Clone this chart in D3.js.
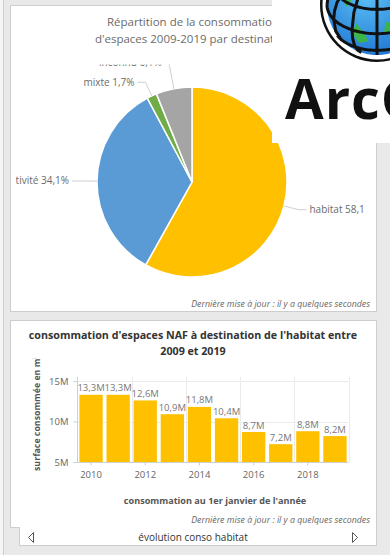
<!DOCTYPE html>
<html>
<head>
<meta charset="utf-8">
<script src="https://cdn.jsdelivr.net/npm/d3@7"></script>
<style>
  html, body { margin: 0; padding: 0; background: #e9e9e9; }
  svg { display: block; }
  text { font-family: "Open Sans", sans-serif; }
</style>
</head>
<body>
<svg id="dash" width="390" height="555"></svg>
<script>
// Part des destinations dans la consommation d'espaces 2009-2019 (%)
const pieCategories = ["habitat", "activité", "mixte", "inconnu"];
const pieShares = [58.1, 34.1, 1.7, 6.1];
const pieColors = ["#ffc000", "#5b9bd5", "#70ad47", "#a5a5a5"];

// Consommation d'espaces NAF pour l'habitat (m²), au 1er janvier
const years = [2010, 2011, 2012, 2013, 2014, 2015, 2016, 2017, 2018, 2019];
const habitatConso = [13.3e6, 13.3e6, 12.6e6, 10.9e6, 11.8e6, 10.4e6, 8.7e6, 7.2e6, 8.8e6, 8.2e6];
const yTickValues = [5e6, 10e6, 15e6];
const xTickYears = [2010, 2012, 2014, 2016, 2018];

const fr = d3.formatLocale({ decimal: ",", thousands: " ", grouping: [3], currency: ["", " €"] });
const fmtM = v => fr.format(".1f")(v / 1e6) + "M";
const fmtTick = v => fr.format("d")(v / 1e6) + "M";
const fmtPct = v => fr.format(".1f")(v) + "%";

const svg = d3.select("#dash");
const defs = svg.append("defs");

// left edge strip of the page
svg.append("rect").attr("x", 0).attr("y", 0).attr("width", 3).attr("height", 555).attr("fill", "#f5f5f5");
svg.append("line").attr("x1", 3.5).attr("x2", 3.5).attr("y1", 0).attr("y2", 555).attr("stroke", "#cfcfcf");

// ---------- card 1 : pie ----------
svg.append("rect").attr("x", 10.5).attr("y", 5.5).attr("width", 366).attr("height", 306)
  .attr("fill", "#fff").attr("stroke", "#cdcdcd");

const pieTitle = svg.append("text").attr("text-anchor", "middle").attr("fill", "#6b6b6b")
  .attr("font-size", 11.5);
pieTitle.append("tspan").attr("x", 193).attr("y", 26).text("Répartition de la consommation");
pieTitle.append("tspan").attr("x", 193).attr("y", 43).text("d'espaces 2009-2019 par destination");

defs.append("clipPath").attr("id", "pieClip").append("rect")
  .attr("x", 16).attr("y", 64.5).attr("width", 347).attr("height", 240);

const pieG = svg.append("g").attr("clip-path", "url(#pieClip)");
const cx = 192, cy = 182, R = 95;
const pie = d3.pie().sort(null).value(d => d)(pieShares);
const arc = d3.arc().innerRadius(0).outerRadius(R);

pieG.append("g").attr("transform", `translate(${cx},${cy})`)
  .selectAll("path").data(pie).join("path")
  .attr("d", arc)
  .attr("fill", (d, i) => pieColors[i])
  .attr("stroke", "#fff").attr("stroke-width", 1.5);

// leader lines and labels
const labelSpec = [
  { ext: 15, dx: 8, side: 1 },
  { ext: 15, dx: 10, side: -1 },
  { ext: 15, dx: 8, side: -1 },
  { ext: 27, dx: 4, side: -1 }
];
pie.forEach((d, i) => {
  const a = (d.startAngle + d.endAngle) / 2;
  const s = labelSpec[i];
  const p0 = [cx + R * Math.sin(a), cy - R * Math.cos(a)];
  const p1 = [cx + (R + s.ext) * Math.sin(a), cy - (R + s.ext) * Math.cos(a)];
  const p2 = [p1[0] + s.side * s.dx, p1[1]];
  pieG.append("path")
    .attr("d", d3.line()([p0, p1, p2]))
    .attr("fill", "none").attr("stroke", "#cfcfcf").attr("stroke-width", 1);
  pieG.append("text")
    .attr("x", p2[0] + s.side * 3).attr("y", p2[1] + 3.5)
    .attr("text-anchor", s.side > 0 ? "start" : "end")
    .attr("font-size", 10).attr("fill", "#6b6b6b")
    .text(pieCategories[i] + " " + fmtPct(pieShares[i]));
});

svg.append("text").attr("x", 370).attr("y", 307).attr("text-anchor", "end")
  .attr("font-size", 8.8).attr("font-style", "italic").attr("fill", "#666")
  .text("Dernière mise à jour : il y a quelques secondes");

// ---------- card 2 : bars ----------
svg.append("path")
  .attr("d", "M10.5,320.5 H376.5 V545.5 H19.5 V527.5 H10.5 Z")
  .attr("fill", "#fff").attr("stroke", "#cdcdcd");

const barTitle = svg.append("text").attr("text-anchor", "middle").attr("fill", "#333")
  .attr("font-size", 10.7).attr("font-weight", 700);
barTitle.append("tspan").attr("x", 193).attr("y", 339).text("consommation d'espaces NAF à destination de l'habitat entre");
barTitle.append("tspan").attr("x", 193).attr("y", 355).text("2009 et 2019");

const x = d3.scaleBand().domain(years).range([77.5, 348.5]).paddingInner(0.14).paddingOuter(0.07);
const y = d3.scaleLinear().domain([5e6, 15e6]).range([462, 381]);

const plot = svg.append("g");
// horizontal grid
plot.selectAll("line.hg").data(yTickValues.slice(1)).join("line")
  .attr("x1", 77.5).attr("x2", 348.5)
  .attr("y1", d => Math.round(y(d)) + 0.5).attr("y2", d => Math.round(y(d)) + 0.5)
  .attr("stroke", "#ebebeb");
// vertical grid between year pairs
plot.selectAll("line.vg").data(years.filter(v => v % 2 === 1)).join("line")
  .attr("x1", d => Math.round(x(d) + x.bandwidth() + x.step() * x.paddingInner() / 2) + 0.5)
  .attr("x2", d => Math.round(x(d) + x.bandwidth() + x.step() * x.paddingInner() / 2) + 0.5)
  .attr("y1", 377).attr("y2", 462)
  .attr("stroke", "#ebebeb");

plot.selectAll("rect.bar").data(years).join("rect")
  .attr("x", d => x(d)).attr("width", x.bandwidth())
  .attr("y", (d, i) => y(habitatConso[i]))
  .attr("height", (d, i) => y(5e6) - y(habitatConso[i]))
  .attr("fill", "#ffc000");

plot.selectAll("text.val").data(years).join("text")
  .attr("x", d => x(d) + x.bandwidth() / 2)
  .attr("y", (d, i) => y(habitatConso[i]) - 3.5)
  .attr("text-anchor", "middle").attr("font-size", 9.5).attr("fill", "#777")
  .text((d, i) => fmtM(habitatConso[i]));

// y axis
const yAxis = d3.axisLeft(y).tickValues(yTickValues).tickFormat(fmtTick).tickSize(4).tickPadding(5);
const yG = svg.append("g").attr("transform", "translate(77.5,0)").call(yAxis);
yG.select(".domain").remove();
yG.append("line").attr("x1", 0).attr("x2", 0).attr("y1", 377).attr("y2", 462).attr("stroke", "#cfcfcf");
yG.selectAll(".tick line").attr("stroke", "#cfcfcf");
yG.selectAll(".tick text").attr("font-size", 9.5).attr("fill", "#666").attr("font-family", "Open Sans");

// x axis
const xAxis = d3.axisBottom(x).tickValues(xTickYears).tickSize(3).tickPadding(6);
const xG = svg.append("g").attr("transform", "translate(0,462.5)").call(xAxis);
xG.select(".domain").remove();
xG.append("line").attr("x1", 77.5).attr("x2", 348.5).attr("stroke", "#cfcfcf");
xG.selectAll(".tick line").attr("stroke", "#cfcfcf");
xG.selectAll(".tick text").attr("font-size", 9.5).attr("fill", "#666").attr("font-family", "Open Sans");

// axis titles
defs.append("clipPath").attr("id", "yTitleClip").append("rect")
  .attr("x", 20).attr("y", 358).attr("width", 40).attr("height", 120);
svg.append("g").attr("clip-path", "url(#yTitleClip)")
  .append("text").attr("transform", "translate(40,471) rotate(-90)")
  .attr("text-anchor", "start").attr("font-size", 8.8).attr("font-weight", 700).attr("fill", "#555")
  .text("surface consommée en m²");

svg.append("text").attr("x", 215).attr("y", 504).attr("text-anchor", "middle")
  .attr("font-size", 9.1).attr("font-weight", 700).attr("fill", "#555")
  .text("consommation au 1er janvier de l'année");

svg.append("text").attr("x", 370).attr("y", 523).attr("text-anchor", "end")
  .attr("font-size", 8.8).attr("font-style", "italic").attr("fill", "#666")
  .text("Dernière mise à jour : il y a quelques secondes");

// carousel bar
svg.append("text").attr("x", 193).attr("y", 541).attr("text-anchor", "middle")
  .attr("font-size", 10).attr("fill", "#333").text("évolution conso habitat");
svg.append("path").attr("d", "M33.5,532.5 L28.5,537.5 L33.5,542.5 Z")
  .attr("fill", "none").attr("stroke", "#555");
svg.append("path").attr("d", "M352.5,532.5 L357.5,537.5 L352.5,542.5 Z")
  .attr("fill", "none").attr("stroke", "#555");

// ---------- ArcGIS logo overlay ----------
const logo = svg.append("g");
logo.append("rect").attr("x", 272).attr("y", 0).attr("width", 118).attr("height", 143).attr("fill", "#fff");

const proj = d3.geoOrthographic().translate([377, 5]).scale(50).rotate([30, -35]).clipAngle(90);
const gpath = d3.geoPath(proj);
defs.append("radialGradient").attr("id", "sea").attr("cx", "40%").attr("cy", "40%").attr("r", "70%")
  .selectAll("stop").data([["0%", "#5cc0f5"], ["100%", "#1a6fd0"]]).join("stop")
  .attr("offset", d => d[0]).attr("stop-color", d => d[1]);
logo.append("circle").attr("cx", 377).attr("cy", 5).attr("r", 57).attr("fill", "#111");
logo.append("circle").attr("cx", 377).attr("cy", 5).attr("r", 54.5).attr("fill", "#fff");
logo.append("path").datum({ type: "Sphere" }).attr("d", gpath).attr("fill", "url(#sea)");
// small land patches (rings wound clockwise)
const landShapes = [
  [[-55, 10], [-45, 0], [-40, -12], [-52, -18], [-60, -5], [-55, 10]],
  [[-20, 15], [-5, 8], [-8, -5], [-22, 0], [-20, 15]],
  [[-80, 40], [-68, 35], [-72, 25], [-85, 30], [-80, 40]]
];
logo.selectAll("path.land").data(landShapes).join("path")
  .attr("d", d => gpath({ type: "Polygon", coordinates: [d] }))
  .attr("fill", "#3bb54a");
logo.append("path").datum(d3.geoGraticule().step([30, 30])()).attr("d", gpath)
  .attr("fill", "none").attr("stroke", "#111").attr("stroke-width", 3);
logo.append("text").attr("x", 285).attr("y", 119).attr("font-size", 56).attr("font-weight", 700)
  .attr("letter-spacing", 1).attr("fill", "#111").text("ArcGIS");
</script>
</body>
</html>
